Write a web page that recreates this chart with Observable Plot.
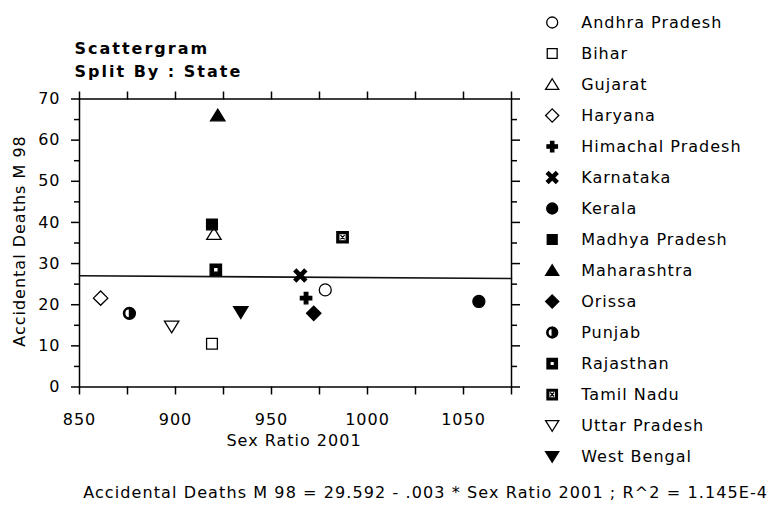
<!DOCTYPE html>
<html>
<head>
<meta charset="utf-8">
<script src="https://cdn.jsdelivr.net/npm/d3@7"></script>
<script src="https://cdn.jsdelivr.net/npm/@observablehq/plot@0.6"></script>
<style>
  html, body { margin: 0; padding: 0; background: white; }
  #wrap { position: relative; width: 769px; height: 507px; overflow: hidden; background: white; }
  #wrap svg { position: absolute; top: 0; }
</style>
</head>
<body>
<div id="wrap"></div>
<script>
// ---- data ----
const states = ["Andhra Pradesh", "Bihar", "Gujarat", "Haryana", "Himachal Pradesh", "Karnataka", "Kerala",
  "Madhya Pradesh", "Maharashtra", "Orissa", "Punjab", "Rajasthan", "Tamil Nadu", "Uttar Pradesh", "West Bengal"];
const sexRatio = [978, 919, 920, 861, 968, 965, 1058, 919, 922, 972, 876, 921, 987, 898, 934];
const deaths = [23.6, 10.5, 37.2, 21.6, 21.6, 27.1, 20.8, 39.5, 66.0, 17.9, 17.9, 28.5, 36.4, 14.7, 18.2];
const xTicks = [850, 875, 900, 925, 950, 975, 1000, 1025, 1050, 1075];
const xTickLabels = [850, 900, 950, 1000, 1050];
const yTicks = [0, 10, 20, 30, 40, 50, 60, 70];
const yMinorTicks = [5, 15, 25, 35, 45, 55, 65];
const fitIntercept = 29.592;
const fitSlope = -0.003;
const fitRange = [850, 1075];
const titleLines = ["Scattergram", "Split By : State"];
const xLabel = "Sex Ratio 2001";
const yLabel = "Accidental Deaths M 98";
const footer = "Accidental Deaths M 98 = 29.592 - .003 * Sex Ratio 2001 ; R^2 = 1.145E-4";

const rows = states.map((s, i) => ({state: s, x: sexRatio[i], y: deaths[i]}));
const fitLine = fitRange.map(x => ({x, y: fitIntercept + fitSlope * x}));

// ---- symbols (styles) ----
const sym = (f) => ({draw(p, size) { f(p, Math.sqrt(size / Math.PI)); }});
const poly = (p, pts) => { p.moveTo(...pts[0]); pts.slice(1).forEach(q => p.lineTo(...q)); p.closePath(); };
const sqPath = (p, s, ccw) => ccw
  ? poly(p, [[-s, -s], [-s, s], [s, s], [s, -s]])
  : poly(p, [[-s, -s], [s, -s], [s, s], [-s, s]]);
const circ = sym((p, r) => { p.moveTo(r, 0); p.arc(0, 0, r, 0, 2 * Math.PI); });
const square = sym((p, r) => sqPath(p, 0.9 * r));
const triUp = sym((p, r) => poly(p, [[0, -1.05 * r], [1.2 * r, 0.9 * r], [-1.2 * r, 0.9 * r]]));
const triDown = sym((p, r) => poly(p, [[0, 1.05 * r], [1.2 * r, -0.9 * r], [-1.2 * r, -0.9 * r]]));
const diamond = sym((p, r) => poly(p, [[0, -1.2 * r], [1.2 * r, 0], [0, 1.2 * r], [-1.2 * r, 0]]));
const crossPts = (a, t) => [[-t, -a], [t, -a], [t, -t], [a, -t], [a, t], [t, t], [t, a], [-t, a], [-t, t], [-a, t], [-a, -t], [-t, -t]];
const plus = sym((p, r) => poly(p, crossPts(0.95 * r, 0.3 * r)));
const times = sym((p, r) => { const c = Math.SQRT1_2;
  poly(p, crossPts(1.2 * r, 0.28 * r).map(([x, y]) => [c * (x - y), c * (x + y)])); });
const half = sym((p, r) => { const w = 1.3;
  p.moveTo(0, -r); p.arc(0, 0, r, -Math.PI / 2, Math.PI / 2); p.closePath();
  p.moveTo(0, r); p.arc(0, 0, r, Math.PI / 2, 3 * Math.PI / 2); p.lineTo(0, -r + w);
  p.arc(0, 0, r - w, 3 * Math.PI / 2, Math.PI / 2, true); p.closePath(); });
const boxDot = sym((p, r) => { sqPath(p, 0.95 * r); sqPath(p, 0.4 * r, true); });
const boxX = sym((p, r) => { sqPath(p, 0.95 * r); sqPath(p, 0.62 * r, true);
  const k = 0.35 * r; p.moveTo(-k, -k); p.lineTo(k, k); p.moveTo(k, -k); p.lineTo(-k, k); });

const symbolStyle = {
  "Andhra Pradesh": [circ, "white"], "Bihar": [square, "white"], "Gujarat": [triUp, "white"],
  "Haryana": [diamond, "white"], "Himachal Pradesh": [plus, "black"], "Karnataka": [times, "black"],
  "Kerala": [circ, "black"], "Madhya Pradesh": [square, "black"], "Maharashtra": [triUp, "black"],
  "Orissa": [diamond, "black"], "Punjab": [half, "black"], "Rajasthan": [boxDot, "black"],
  "Tamil Nadu": [boxX, "black"], "Uttar Pradesh": [triDown, "white"], "West Bengal": [triDown, "black"]
};
const symbolScale = {domain: states, range: states.map(s => symbolStyle[s][0])};
const font = {fontFamily: "DejaVu Sans", fontSize: "16px", letterSpacing: "1px", color: "black", background: "white", overflow: "visible"};

// ---- main chart ----
const W = 769, H = 507, frameL = 79, frameR = 511, frameT = 98.5, frameB = 386.5;
const mainChart = Plot.plot({
  width: W, height: H,
  marginLeft: frameL, marginRight: W - frameR, marginTop: frameT, marginBottom: H - frameB,
  style: font,
  x: {domain: [850, 1075]},
  y: {domain: [0, 70]},
  symbol: symbolScale,
  marks: [
    Plot.frame({stroke: "black", strokeWidth: 1.5}),
    Plot.axisX({anchor: "bottom", ticks: xTicks, tickSize: 8, tickPadding: 19, strokeWidth: 1.5,
      tickFormat: d => xTickLabels.includes(d) ? String(d) : "", label: null}),
    Plot.axisX({anchor: "top", ticks: xTicks, tickSize: 8, strokeWidth: 1.5, tickFormat: () => "", label: null}),
    Plot.axisY({anchor: "left", ticks: yTicks, tickSize: 8, tickPadding: 11, strokeWidth: 1.5, label: null}),
    Plot.axisY({anchor: "left", ticks: yMinorTicks, tickSize: 5, strokeWidth: 1.5, tickFormat: () => "", label: null}),
    Plot.axisY({anchor: "right", ticks: yTicks, tickSize: 8, strokeWidth: 1.5, tickFormat: () => "", label: null}),
    Plot.axisY({anchor: "right", ticks: yMinorTicks, tickSize: 5, strokeWidth: 1.5, tickFormat: () => "", label: null}),
    Plot.line(fitLine, {x: "x", y: "y", stroke: "#111", strokeWidth: 1.6}),
    Plot.dot(rows, {x: "x", y: "y", symbol: "state", r: 6, fill: d => symbolStyle[d.state][1], stroke: "black", strokeWidth: 1.3}),
    Plot.text([titleLines[0]], {text: d => d, frameAnchor: "top-left", dx: -5, dy: -50, textAnchor: "start", lineAnchor: "middle", fontWeight: "bold", fontSize: 16}),
    Plot.text([titleLines[1]], {text: d => d, frameAnchor: "top-left", dx: -5, dy: -27, textAnchor: "start", lineAnchor: "middle", fontWeight: "bold", fontSize: 16}),
    Plot.text([yLabel], {text: d => d, frameAnchor: "left", dx: -60, dy: -2, rotate: -90, textAnchor: "middle", lineAnchor: "middle"}),
    Plot.text([xLabel], {text: d => d, frameAnchor: "bottom", dx: -1.5, dy: 53.5, textAnchor: "middle", lineAnchor: "middle"}),
    Plot.text([footer], {text: d => d, frameAnchor: "bottom-left", dx: 3.7, dy: 105.5, textAnchor: "start", lineAnchor: "middle"})
  ]
});
mainChart.style.left = "0px";

// ---- legend ----
const LX = 530;
const legendChart = Plot.plot({
  width: W - LX, height: 480, margin: 0,
  style: font,
  y: {type: "point", domain: states, range: [16, 462.3], padding: 0, axis: null},
  symbol: symbolScale,
  marks: [
    Plot.dot(states, {y: d => d, frameAnchor: "left", dx: 551.7 - LX, symbol: d => d, r: 5.5,
      fill: d => symbolStyle[d][1], stroke: "black", strokeWidth: 1.3}),
    Plot.text(states, {y: d => d, text: d => d, frameAnchor: "left", dx: 580.7 - LX, textAnchor: "start", lineAnchor: "middle"})
  ]
});
legendChart.style.left = LX + "px";

const wrap = document.getElementById("wrap");
wrap.appendChild(mainChart);
wrap.appendChild(legendChart);
d3.select(mainChart).selectAll("text").filter(function() { return titleLines.includes(this.textContent); })
  .style("letter-spacing", "2px");
d3.select(mainChart).selectAll("text").filter(function() { return this.textContent === footer; })
  .style("letter-spacing", "1.1px");
</script>
</body>
</html>
